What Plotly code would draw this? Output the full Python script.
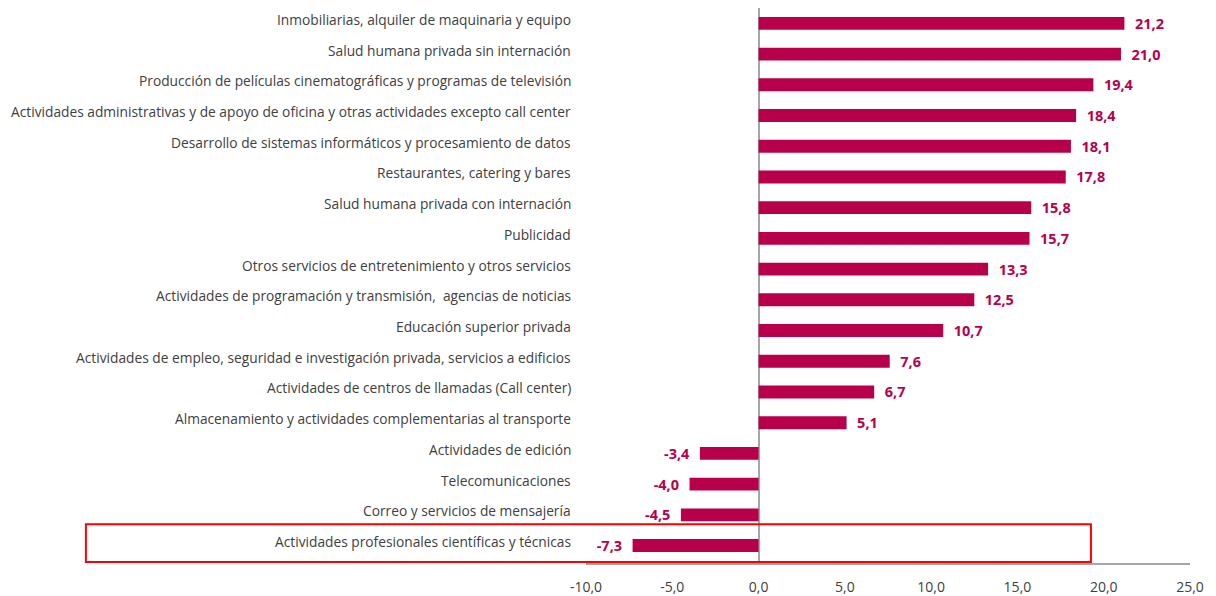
import plotly.graph_objects as go

categories = [
    "Inmobiliarias, alquiler de maquinaria y equipo",
    "Salud humana privada sin internación",
    "Producción de películas cinematográficas y programas de televisión",
    "Actividades administrativas y de apoyo de oficina y otras actividades excepto call center",
    "Desarrollo de sistemas informáticos y procesamiento de datos",
    "Restaurantes, catering y bares",
    "Salud humana privada con internación",
    "Publicidad",
    "Otros servicios de entretenimiento y otros servicios",
    "Actividades de programación y transmisión,  agencias de noticias",
    "Educación superior privada",
    "Actividades de empleo, seguridad e investigación privada, servicios a edificios",
    "Actividades de centros de llamadas (Call center)",
    "Almacenamiento y actividades complementarias al transporte",
    "Actividades de edición",
    "Telecomunicaciones",
    "Correo y servicios de mensajería",
    "Actividades profesionales científicas y técnicas",
]
values = [21.2, 21.0, 19.4, 18.4, 18.1, 17.8, 15.8, 15.7, 13.3, 12.5, 10.7, 7.6, 6.7, 5.1, -3.4, -4.0, -4.5, -7.3]
x_ticks = [-10, -5, 0, 5, 10, 15, 20, 25]
highlight = "Actividades profesionales científicas y técnicas"

BAR = "#B8004A"
FONT = "Open Sans"
TXT = "#404040"

templates = [("  %{x:.1f}" if v >= 0 else "%{x:.1f}  ") for v in values]
x_ticktext = [f"{v:.1f}".replace(".", ",") for v in x_ticks]

fig = go.Figure(go.Bar(
    x=values, y=categories, orientation="h",
    marker=dict(color=BAR, line=dict(width=0)),
    width=0.42,
    texttemplate=templates, textposition="outside", constraintext="none",
    textfont=dict(family=FONT, size=14.5, color=BAR, weight="bold"),
    cliponaxis=False,
))

for c in categories:
    fig.add_annotation(x=0, xref="paper", y=c, yref="y", text=c, showarrow=False,
                       xanchor="right", yanchor="middle", xshift=-13, yshift=4,
                       font=dict(family=FONT, size=13.75, color=TXT))

hi = categories.index(highlight)
fig.add_shape(type="rect", xref="paper", yref="y",
              x0=-0.828, x1=0.836, y0=hi - 0.695, y1=hi + 0.535,
              line=dict(color="#FF0000", width=2), fillcolor="rgba(0,0,0,0)")

fig.update_layout(
    width=1200, height=588,
    margin=dict(l=578, r=18, t=0, b=33, autoexpand=False),
    paper_bgcolor="white", plot_bgcolor="white",
    separators=",.",
    showlegend=False,
    font=dict(family=FONT, size=13, color=TXT),
    xaxis=dict(range=[-10, 25], tickvals=x_ticks, ticktext=x_ticktext, automargin=False,
               showgrid=False, zeroline=True, zerolinecolor="#A6A6A6", zerolinewidth=1.5,
               showline=True, linecolor="#A6A6A6", linewidth=1.5,
               ticks="", ticklabelstandoff=10, tickfont=dict(size=14, color=TXT)),
    yaxis=dict(autorange="reversed", showgrid=False, zeroline=False, showline=False,
               ticks="", showticklabels=False, automargin=False),
)

fig.write_html("out.html")
